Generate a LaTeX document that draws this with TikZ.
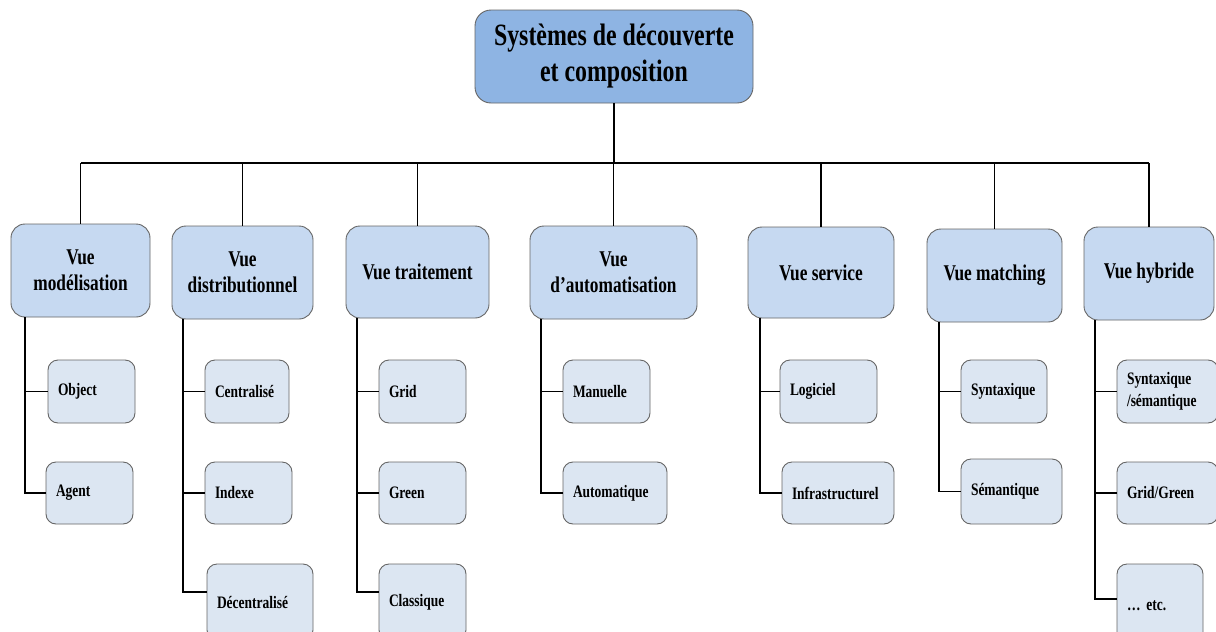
\documentclass[tikz,border=0pt]{standalone}
\usepackage{fontspec}
\setmainfont[FakeStretch=0.77]{Liberation Serif}
\begin{document}
\begin{tikzpicture}[x=1pt,y=-1pt,
  every node/.style={font=\bfseries, text=black},
  boxbase/.style={draw=gray!80!black, line width=0.9pt, inner sep=0pt, outer sep=0pt},
  rootbox/.style={boxbase, fill=rootfill, rounded corners=16pt, align=center,
    font=\bfseries\fontsize{31}{36}\selectfont},
  viewbox/.style={boxbase, fill=viewfill, rounded corners=14pt, align=center,
    font=\bfseries\fontsize{22.5}{26}\selectfont},
  leafbox/.style={boxbase, fill=leaffill, rounded corners=10pt, align=left,
    inner xsep=10pt, font=\bfseries\fontsize{17.5}{22}\selectfont},
  link/.style={line width=1.9pt, black},
  buslink/.style={line width=1.6pt, black},
]
\definecolor{rootfill}{HTML}{8EB4E3}
\definecolor{viewfill}{HTML}{C6D9F1}
\definecolor{leaffill}{HTML}{DCE6F2}
\clip (0,0) rectangle (1216,632);
\fill[white] (0,0) rectangle (1216,632);

% box helpers: #1 name, #2 left, #3 top, #4 right, #5 bottom, #6 text
\newcommand{\rootnode}[6]{\node[rootbox, minimum width=#4-#2, minimum height=#5-#3] (#1) at ({(#2+#4)/2},{(#3+#5)/2}) {#6};}
\newcommand{\viewnode}[6]{\node[viewbox, minimum width=#4-#2, minimum height=#5-#3] (#1) at ({(#2+#4)/2},{(#3+#5)/2}) {#6};}
\newcommand{\leafnode}[6]{\node[leafbox, minimum height=#5-#3, text width=#4-#2-20] (#1) at ({(#2+#4)/2},{(#3+#5)/2}) {#6};}

% root
\rootnode{root}{475}{10}{753}{103}{Systèmes de découverte\\et composition}

% views
\viewnode{vmod}{11}{224}{150}{317}{Vue\\modélisation}
\viewnode{vdis}{172}{226}{313}{319}{Vue\\distributionnel}
\viewnode{vtra}{346}{226}{489}{318}{Vue traitement}
\viewnode{vaut}{530}{226}{697}{319}{Vue\\d’automatisation}
\viewnode{vser}{748}{227}{894}{318}{Vue service}
\viewnode{vmat}{927}{229}{1062}{322}{Vue matching}
\viewnode{vhyb}{1084}{227}{1214}{320}{Vue hybride}

% leaves
\leafnode{lobj}{48}{360}{135}{423}{Object}
\leafnode{lage}{46}{462}{133}{524}{Agent}
\leafnode{lcen}{205}{360}{289}{423}{Centralisé}
\leafnode{lind}{205}{462}{292}{524}{Indexe}
\leafnode{ldec}{207}{564}{313}{640}{Décentralisé}
\leafnode{lgri}{379}{360}{466}{423}{Grid}
\leafnode{lgre}{379}{462}{466}{524}{Green}
\leafnode{lcla}{379}{564}{466}{640}{Classique}
\leafnode{lman}{563}{360}{650}{423}{Manuelle}
\leafnode{laut}{563}{462}{667}{524}{Automatique}
\leafnode{llog}{780}{360}{877}{423}{Logiciel}
\leafnode{linf}{782}{462}{894}{524}{Infrastructurel}
\leafnode{lsyn}{961}{360}{1047}{423}{Syntaxique}
\leafnode{lsem}{961}{459}{1062}{524}{Sémantique}
\leafnode{lsys}{1117}{360}{1218}{423}{Syntaxique\\/sémantique}
\leafnode{lgg}{1117}{462}{1218}{524}{Grid/Green}
\leafnode{letc}{1117}{564}{1203}{648}{… etc.}

% bus from the root to the views
\coordinate (bus) at (0,163);
\draw[buslink] (root.south) -- (root.south |- bus);
\draw[buslink] (vmod.north |- bus) -- (vhyb.north |- bus);
\foreach \v in {vmod,vdis,vtra,vaut,vser,vmat,vhyb}
  \draw[buslink] (\v.north |- bus) -- (\v.north);

% spines from each view to its leaves
\newcommand{\spine}[3]{%
  \coordinate (#1sp) at ([xshift=#2pt]#1.south west);
  \foreach \l in {#3} \draw[link] (#1sp) |- (\l.west);}
\spine{vmod}{14}{lobj,lage}
\spine{vdis}{11}{lcen,lind}
\spine{vtra}{11}{lgri,lgre}
\spine{vaut}{11}{lman,laut}
\spine{vser}{12}{llog,linf}
\spine{vmat}{12}{lsyn,lsem}
\spine{vhyb}{11}{lsys,lgg}
% the lower, clipped leaves are joined above their centre
\draw[link] (vdissp) |- ([yshift=10pt]ldec.west);
\draw[link] (vtrasp) |- ([yshift=10pt]lcla.west);
\draw[link] (vhybsp) |- ([yshift=7pt]letc.west);
\end{tikzpicture}
\end{document}
